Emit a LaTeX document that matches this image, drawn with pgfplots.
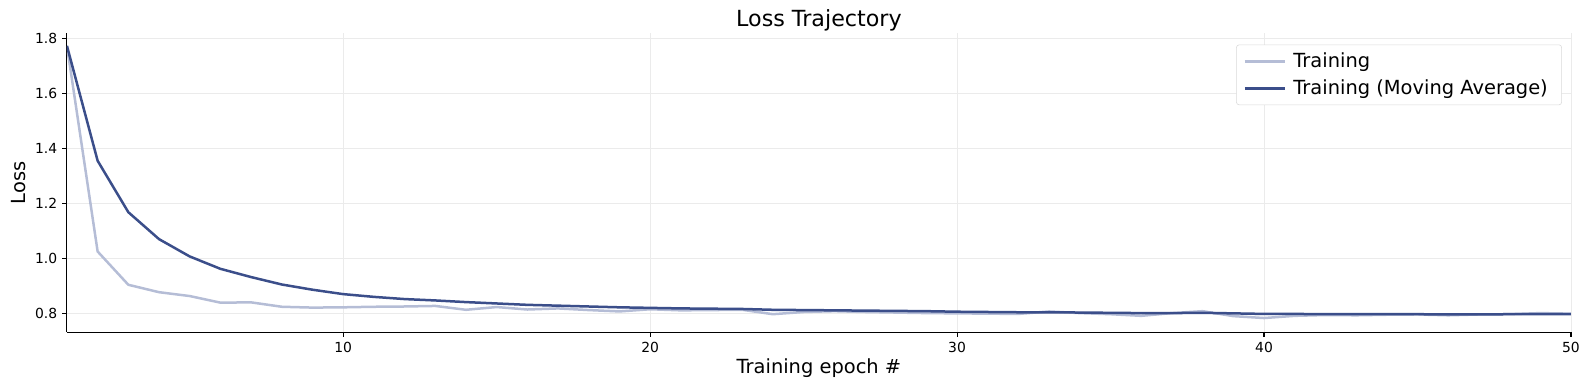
\documentclass[border=0pt]{standalone}
\usepackage{pgfplots}
\pgfplotsset{compat=1.18}
\usepackage{fontspec}
\setmainfont{DejaVu Sans}
\definecolor{darkc}{RGB}{59,78,138}
\definecolor{lightc}{RGB}{181,189,214}
\definecolor{gridc}{RGB}{235,235,235}
\begin{document}
\begin{tikzpicture}
\begin{axis}[
  name=ax,
  scale only axis,
  width=1083pt, height=215pt,
  xmin=1, xmax=50, ymin=0.731, ymax=1.817,
  xtick={10,20,30,40,50},
  ytick={0.8,1.0,1.2,1.4,1.6,1.8},
  yticklabel style={/pgf/number format/.cd,fixed,fixed zerofill,precision=1},
  /pgf/number format/assume math mode=true,
  ticklabel style={font=\fontsize{10}{12}\selectfont},
  axis x line*=bottom, axis y line*=left,
  axis line style={-, black, line width=0.8pt},
  tick align=outside, major tick length=3.5pt,
  tick style={black, line width=0.8pt},
  grid=major, major grid style={gridc, line width=0.6pt},
  title={Loss Trajectory},
  title style={font=\fontsize{16}{19}\selectfont, yshift=-8pt},
  xlabel={Training epoch \#},
  ylabel={Loss},
  label style={font=\fontsize{14}{17}\selectfont},
  xlabel style={yshift=2pt},
  legend style={at={(0.994,0.963)}, anchor=north east, draw=black!15, rounded corners=2pt,
    font=\fontsize{14}{17}\selectfont, inner xsep=5pt, inner ysep=4pt, row sep=3pt,
    nodes={inner xsep=5pt}},
  legend cell align=left,
  legend image code/.code={\draw[#1, line width=2pt] (0cm,0cm) -- (1.02cm,0cm);},
]
\addplot[lightc, line width=1.8pt] coordinates {
(1,1.772)(2,1.024)(3,0.903)(4,0.876)(5,0.862)(6,0.838)(7,0.839)(8,0.823)(9,0.820)(10,0.821)
(11,0.823)(12,0.824)(13,0.826)(14,0.812)(15,0.822)(16,0.813)(17,0.817)(18,0.811)(19,0.806)(20,0.814)
(21,0.810)(22,0.811)(23,0.812)(24,0.796)(25,0.804)(26,0.807)(27,0.804)(28,0.802)(29,0.800)(30,0.799)
(31,0.798)(32,0.797)(33,0.806)(34,0.800)(35,0.796)(36,0.790)(37,0.800)(38,0.807)(39,0.789)(40,0.782)
(41,0.790)(42,0.793)(43,0.792)(44,0.794)(45,0.795)(46,0.792)(47,0.795)(48,0.796)(49,0.800)(50,0.798)
};
\addlegendentry{Training}
\addplot[darkc, line width=1.8pt] coordinates {
(1,1.772)(2,1.354)(3,1.167)(4,1.069)(5,1.006)(6,0.961)(7,0.931)(8,0.904)(9,0.885)(10,0.869)
(11,0.859)(12,0.851)(13,0.846)(14,0.840)(15,0.835)(16,0.830)(17,0.827)(18,0.824)(19,0.821)(20,0.819)
(21,0.817)(22,0.816)(23,0.815)(24,0.812)(25,0.811)(26,0.810)(27,0.809)(28,0.808)(29,0.807)(30,0.805)
(31,0.804)(32,0.803)(33,0.803)(34,0.802)(35,0.801)(36,0.800)(37,0.800)(38,0.801)(39,0.799)(40,0.797)
(41,0.797)(42,0.796)(43,0.796)(44,0.796)(45,0.796)(46,0.795)(47,0.795)(48,0.796)(49,0.796)(50,0.796)
};
\addlegendentry{Training (Moving Average)}
\end{axis}
\pgfresetboundingbox
\path[use as bounding box] ([xshift=-48.2pt,yshift=-41.8pt]ax.south west) rectangle ([xshift=13pt,yshift=24.1pt]ax.north east);
\end{tikzpicture}
\end{document}
